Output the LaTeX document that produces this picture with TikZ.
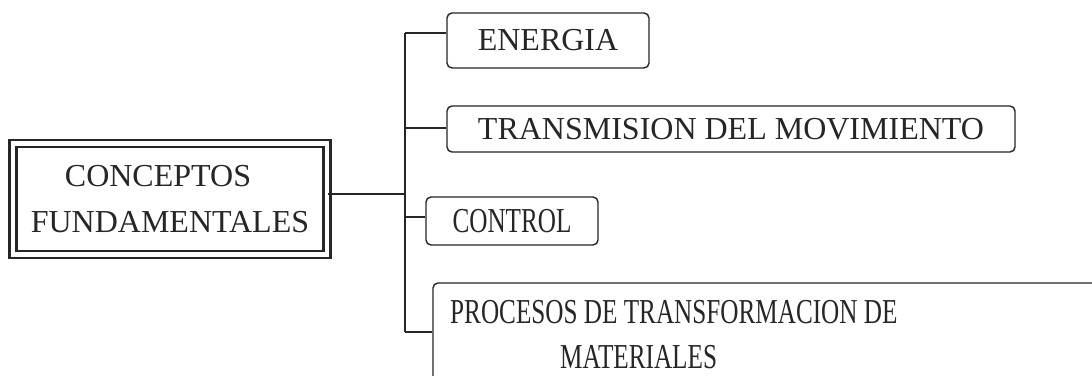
\documentclass[tikz,border=0pt]{standalone}
\usepackage{fontspec}
\setmainfont{Liberation Serif}
\newfontfamily\condfont[FakeStretch=0.72]{Liberation Serif}
\definecolor{ink}{gray}{0.15}
\tikzset{
  lbl/.style={font=\fontsize{32}{46}\selectfont, text=ink},
  cond/.style={font=\condfont\fontsize{35}{46}\selectfont, text=ink},
  leaf/.style={draw=ink, line width=1.4pt, rounded corners=5pt, inner sep=0pt, lbl},
  link/.style={draw=ink, line width=1.4pt},
  mainbox/.style={draw=ink, line width=2.4pt, double=white, double distance=4.6pt, inner sep=0pt, lbl, align=center}
}
\begin{document}
\begin{tikzpicture}[x=1pt,y=-1pt]
\clip (0,0) rectangle (1092,375);
\fill[white] (0,0) rectangle (1092,375);
% main box
\node[mainbox, minimum width=314pt, minimum height=111pt] (main) at (170,199)
  {CONCEPTOS\hspace*{24pt}\\FUNDAMENTALES};
% leaves
\node[leaf, minimum width=202pt, minimum height=55pt] (ene) at (548,40.5) {ENERGIA};
\node[leaf, minimum width=568pt, minimum height=46pt] (tra) at (731,129) {TRANSMISION DEL MOVIMIENTO};
\node[leaf, cond, minimum width=172pt, minimum height=48pt] (con) at (512,221) {CONTROL};
\node[leaf, minimum width=677pt, minimum height=137pt] (pro) at (771.5,351.5) {};
\node[cond, anchor=base west, inner sep=0pt] (pro1) at (450,323) {PROCESOS DE TRANSFORMACION DE};
\node[cond, anchor=base west, inner sep=0pt] (pro2) at (560,368) {MATERIALES};
% trunk
\coordinate (jmain) at (405,194);
\coordinate (jene) at (405,33);
\coordinate (jtra) at (405,128);
\coordinate (jcon) at (405,217);
\coordinate (jpro) at (405,332);
\draw[link] (main.east |- jmain) -- (jmain);
\draw[link] (jene) -- (jpro);
\draw[link] (jene) -- (jene -| ene.west);
\draw[link] (jtra) -- (jtra -| tra.west);
\draw[link] (jcon) -- (jcon -| con.west);
\draw[link] (jpro) -- (jpro -| pro.west);
\end{tikzpicture}
\end{document}
